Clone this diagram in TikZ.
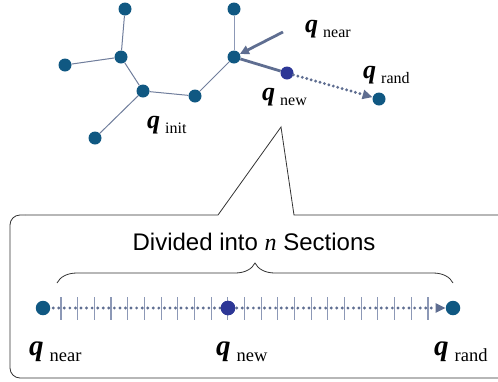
\documentclass[tikz,border=0pt]{standalone}
\usepackage{fontspec}
\setmainfont{Liberation Serif}
\newfontfamily\labsans{Liberation Sans}
\usetikzlibrary{arrows.meta,decorations.pathreplacing}

\definecolor{nodeblue}{RGB}{16,88,130}
\definecolor{newblue}{RGB}{45,55,150}
\definecolor{edgegray}{RGB}{112,126,156}
\definecolor{arrowgray}{RGB}{95,110,145}
\definecolor{tickgray}{RGB}{140,152,182}

% configuration label: bold italic q with a lowered subscript word
\newcommand\qsym[1]{{\fontsize{26}{26}\selectfont\bfseries\itshape q}\hspace{5pt}\raisebox{-5pt}{\fontsize{16}{16}\selectfont #1}}
\newcommand\qbig[1]{{\fontsize{29}{29}\selectfont\bfseries\itshape q}\hspace{6pt}\raisebox{-6pt}{\fontsize{18.5}{18.5}\selectfont #1}}

\begin{document}
\begin{tikzpicture}[x=1pt,y=-1pt,
  vtx/.style={circle,fill=nodeblue,inner sep=0pt,minimum size=13pt},
  newvtx/.style={vtx,fill=newblue},
  bigvtx/.style={vtx,minimum size=14.5pt},
  treeedge/.style={draw=edgegray,line width=1pt},
  thickedge/.style={draw=arrowgray,line width=2.8pt},
  dotarrow/.style={draw=arrowgray,line width=3.2pt,line cap=round,dash pattern=on 0pt off 4.6pt,
    -{Triangle[length=10pt,width=9pt]}},
  qlab/.style={anchor=base west,inner sep=0pt},
  tick/.style={draw=tickgray,line width=1.1pt},
  callout/.style={draw=black!80,line width=0.8pt}]
\useasboundingbox (0,0) rectangle (498,381);

% --- tree ---
\node[vtx] (a) at (125,9) {};
\node[vtx] (b) at (121,57) {};
\node[vtx] (c) at (65,65) {};
\node[vtx] (d) at (143,91) {};
\node[vtx] (e) at (195,96) {};
\node[vtx] (f) at (95,138) {};
\node[vtx] (g) at (234,57) {};
\node[vtx] (h) at (234,9) {};
\node[newvtx] (qn) at (287,73) {};
\node[vtx] (qr) at (379,99) {};
\coordinate (ptr) at (283,32);

\draw[treeedge] (a) -- (b);
\draw[treeedge] (b) -- (c);
\draw[treeedge] (b) -- (d);
\draw[treeedge] (d) -- (f);
\draw[treeedge] (d) -- (e);
\draw[treeedge] (e) -- (g);
\draw[treeedge,draw=tickgray] (g) -- (h);
\draw[thickedge] (g) -- (qn);
\draw[thickedge,-{Triangle[length=9pt,width=9pt]}] (ptr) -- (g);
\draw[dotarrow] (qn) -- (qr);

\node[qlab] (lnear) at (305,32) {\qsym{near}};
\node[qlab] (linit) at (147,128) {\qsym{init}};
\node[qlab] (lnew) at (262,100) {\qsym{new}};
\node[qlab] (lrand) at (363,78) {\qsym{rand}};

% --- callout box ---
\coordinate (tip) at (281,127);
\coordinate (pl) at (218,215);
\coordinate (pr) at (294,215);
\draw[callout] (505,215) -- (pr) -- (tip) -- (pl) -- (25,215);
\draw[callout,rounded corners=10pt] (25,215) -- (10,215) -- (10,378) -- (505,378);

\node[anchor=base,inner sep=0pt] (title) at (254,250)
  {\labsans\fontsize{24}{24}\selectfont Divided into {\rmfamily\itshape n} Sections};
\draw[line width=0.8pt,black!80,decorate,decoration={brace,amplitude=20pt}] (57,283) -- (453,283);

% --- subdivided segment ---
\foreach \k in {0,...,22}
  \draw[tick] ({61+\k*16.68},297) -- ({61+\k*16.68},320);
\node[bigvtx] (bn) at (43,308) {};
\node[bigvtx,fill=newblue] (bw) at (228,308) {};
\node[bigvtx] (br) at (453,308) {};
\draw[dotarrow,dash pattern=on 0pt off 5.56pt,dash phase=2.8pt] (bn) -- (br);
\node[bigvtx,fill=newblue] at (bw) {};

\node[qlab] (bln) at (29,355) {\qbig{near}};
\node[qlab] (blw) at (216,355) {\qbig{new}};
\node[qlab] (blr) at (434,355) {\qbig{rand}};
\end{tikzpicture}
\end{document}
